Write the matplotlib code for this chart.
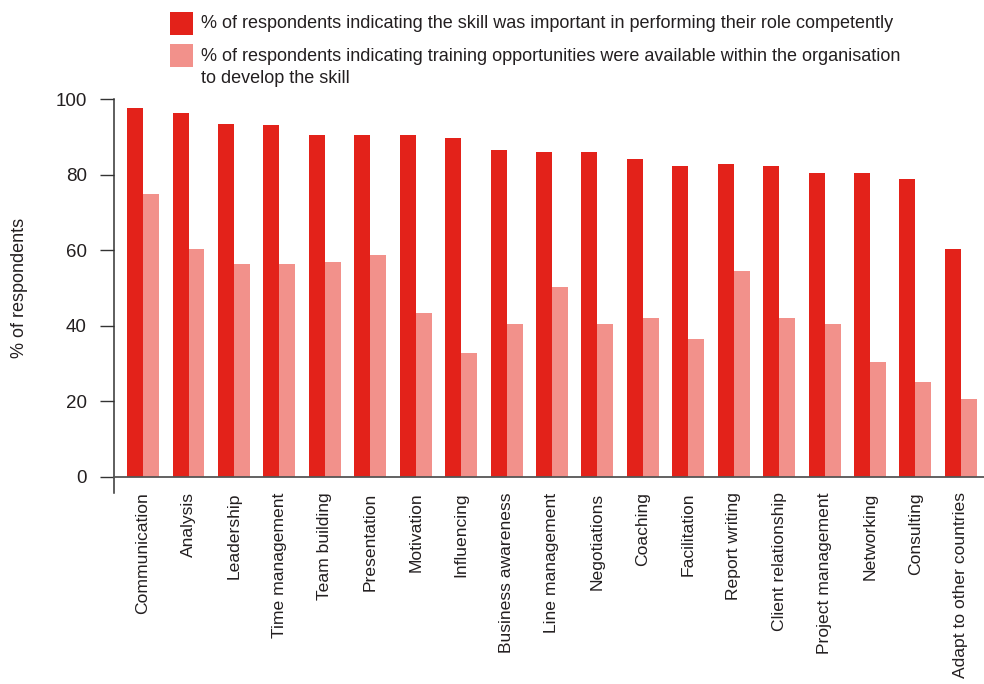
import matplotlib
matplotlib.use("Agg")
import matplotlib.pyplot as plt
from matplotlib.patches import Rectangle
import numpy as np

plt.rcParams['font.family'] = ['Liberation Sans', 'DejaVu Sans']

skills = [
    "Communication", "Analysis", "Leadership", "Time management", "Team building",
    "Presentation", "Motivation", "Influencing", "Business awareness",
    "Line management", "Negotiations", "Coaching", "Facilitation",
    "Report writing", "Client relationship", "Project management",
    "Networking", "Consulting", "Adapt to other countries",
]
important = [97.7, 96.4, 93.5, 93.2, 90.5, 90.5, 90.5, 89.7, 86.6,
             86.0, 86.0, 84.2, 82.3, 82.8, 82.3, 80.5, 80.5, 78.9, 60.3]
training = [74.9, 60.3, 56.3, 56.3, 56.9, 58.7, 43.3, 32.7, 40.4,
            50.2, 40.4, 42.0, 36.5, 54.5, 42.0, 40.4, 30.4, 25.1, 20.5]
legend_labels = [
    "% of respondents indicating the skill was important in performing their role competently",
    "% of respondents indicating training opportunities were available within the organisation\nto develop the skill",
]
y_ticks = [0, 20, 40, 60, 80, 100]

RED = "#E3221A"
PINK = "#F2918B"
TEXT = "#231F20"
AXIS = "#333333"

W, H = 984, 684
fig = plt.figure(figsize=(W / 100, H / 100), dpi=100)
ax = fig.add_axes([114 / W, 1 - 476.5 / H, 1 - 114 / W, (476.5 - 99.3) / H])

x = np.arange(len(skills))
bw = 0.352
ax.bar(x - bw / 2, important, width=bw, color=RED, linewidth=0)
ax.bar(x + bw / 2, training, width=bw, color=PINK, linewidth=0)

ax.set_xlim(-0.64, len(skills) - 1 + 0.51)
ax.set_ylim(0, 100)

for s in ("top", "right"):
    ax.spines[s].set_visible(False)
ax.spines["left"].set_color(AXIS)
ax.spines["left"].set_linewidth(1.1)
ax.spines["left"].set_bounds(-4.3, 100)
ax.spines["bottom"].set_color("#555555")
ax.spines["bottom"].set_linewidth(1.3)

ax.set_yticks(y_ticks)
ax.tick_params(axis="y", direction="out", length=10, width=1.0, color=AXIS,
               pad=9.5, labelsize=13.5, labelcolor=TEXT)
ax.set_xticks(x)
ax.set_xticklabels(skills, rotation=90, fontsize=12.6, color=TEXT, va="top", ha="center")
ax.tick_params(axis="x", length=0, pad=11.5)

ax.set_ylabel("% of respondents", fontsize=13, color=TEXT)
ax.yaxis.set_label_coords(-0.0989, 0.5)

# legend drawn in figure pixel space
def fx(px):
    return px / W

def fy(py):
    return 1 - py / H

for top, color in ((12, RED), (44, PINK)):
    fig.add_artist(Rectangle((fx(170), fy(top + 23)), 23 / W, 23 / H,
                             transform=fig.transFigure, color=color, linewidth=0))
fig.text(fx(201), fy(23.5), legend_labels[0], fontsize=13, color=TEXT,
         va="center", ha="left")
fig.text(fx(201), fy(48), legend_labels[1], fontsize=13, color=TEXT,
         va="top", ha="left", linespacing=1.42)

fig.savefig("out.png", dpi=100)
